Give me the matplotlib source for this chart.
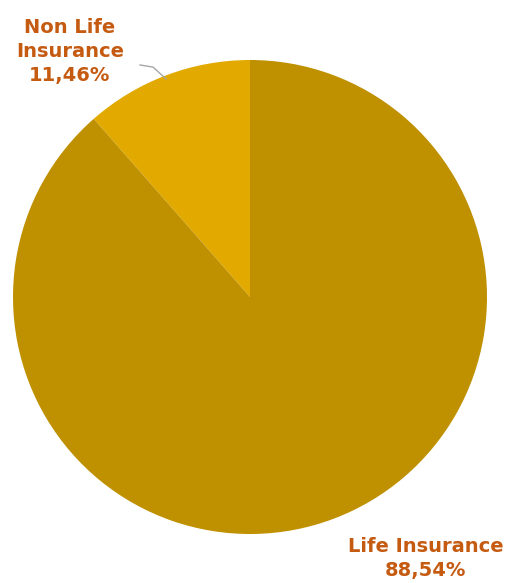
import matplotlib
matplotlib.use('Agg')
import matplotlib.pyplot as plt

labels = ['Non Life\nInsurance', 'Life Insurance']
shares = [11.46, 88.54]
colors = ['#E2AA00', '#BF9000']
txt_color = '#C55A11'

fig = plt.figure(figsize=(5.16, 5.83), dpi=100)
# pie centre ~ (250, 297) px, radius ~ 237 px
ax = fig.add_axes([(250 - 237) / 516, (583 - 297 - 237) / 583, 474 / 516, 474 / 583])
ax.pie(shares, colors=colors, startangle=90, counterclock=True, radius=1,
       wedgeprops=dict(linewidth=0))
ax.set_xlim(-1, 1)
ax.set_ylim(-1, 1)
ax.set_axis_off()

def pct(v):
    return ('%.2f%%' % v).replace('.', ',')

# leader line for small slice
ax.plot([-0.464, -0.409, -0.354], [0.979, 0.970, 0.920], color='#A6A6A6', lw=1, clip_on=False)

ax.text(-0.76, 1.035, labels[0] + '\n' + pct(shares[0]), ha='center', va='center',
        fontsize=14, fontweight='bold', color=txt_color, linespacing=1.33,
        family='DejaVu Sans', clip_on=False)
ax.text(0.74, -1.105, labels[1] + '\n' + pct(shares[1]), ha='center', va='center',
        fontsize=14, fontweight='bold', color=txt_color, linespacing=1.33,
        family='DejaVu Sans', clip_on=False)

fig.savefig('out.png', dpi=100)
